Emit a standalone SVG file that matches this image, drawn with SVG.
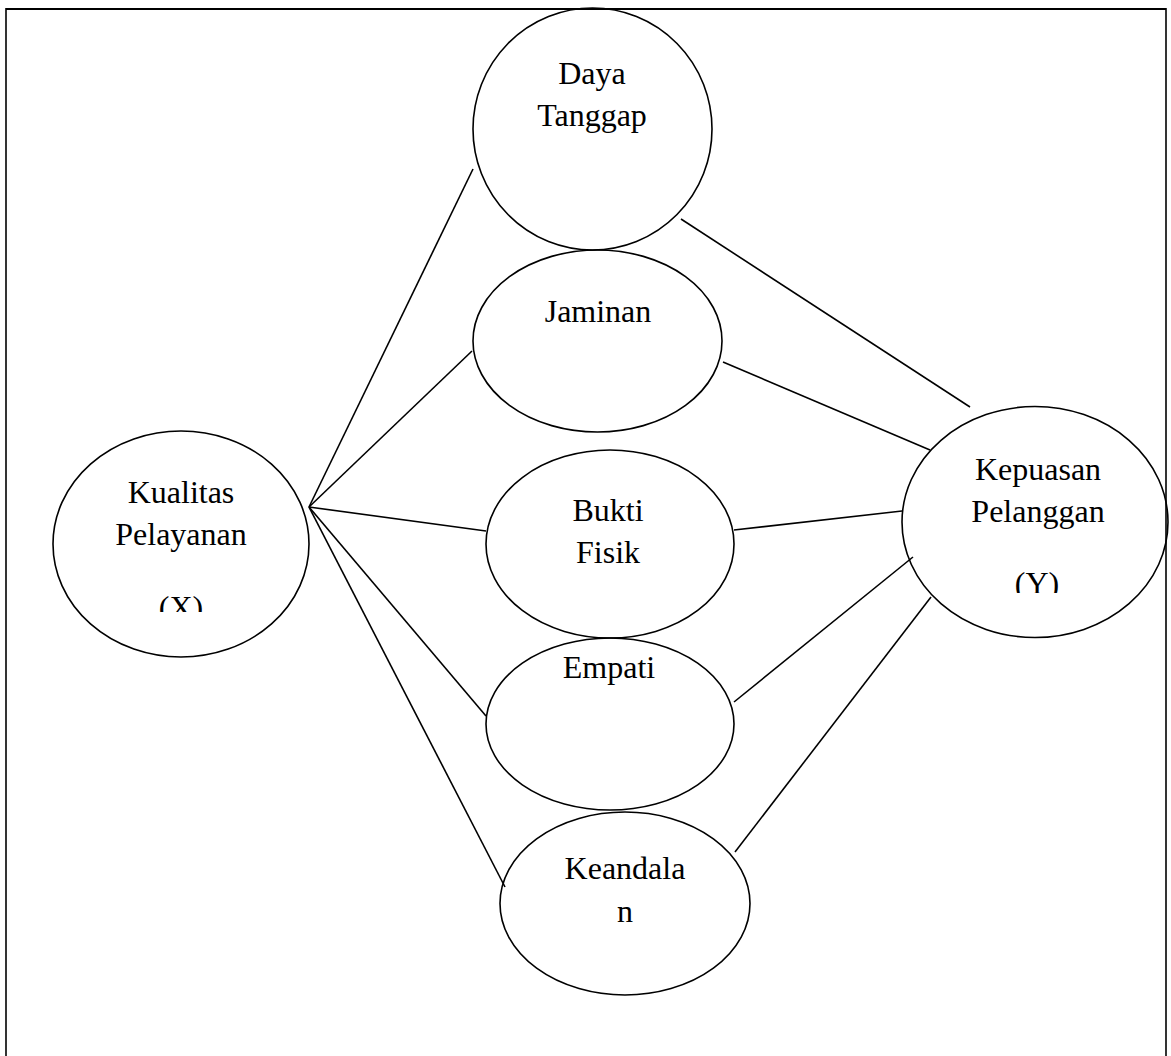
<svg xmlns="http://www.w3.org/2000/svg" width="1171" height="1056" viewBox="0 0 1171 1056">
<style>
.node{fill:none;stroke:#000;stroke-width:1.6}
.lbl{font-family:"Liberation Serif","Times New Roman",serif;font-size:32px;fill:#000;text-anchor:middle}
.conn line{stroke:#000;stroke-width:1.6}
.frame{stroke:#000;fill:none}
</style>
<defs>
<clipPath id="clipX"><rect x="0" y="0" width="1171" height="612"/></clipPath>
<clipPath id="clipY"><rect x="0" y="0" width="1171" height="593"/></clipPath>
</defs>
<rect width="1171" height="1056" fill="#fff"/>
<g id="frame">
<line class="frame" x1="6" y1="9" x2="1166" y2="9" stroke-width="2.2"/>
<line class="frame" x1="6" y1="8" x2="6" y2="1056" stroke-width="1.6"/>
<line class="frame" x1="1166" y1="8" x2="1166" y2="1056" stroke-width="1.6"/>
</g>
<g id="connectors" class="conn">
<line x1="309" y1="507" x2="473" y2="169"/>
<line x1="309" y1="507" x2="472" y2="351"/>
<line x1="309" y1="507" x2="486" y2="531"/>
<line x1="309" y1="507" x2="486" y2="716"/>
<line x1="309" y1="507" x2="505" y2="887"/>
<line x1="681" y1="219" x2="970" y2="407"/>
<line x1="723" y1="362" x2="930" y2="450"/>
<line x1="734" y1="530" x2="902" y2="511"/>
<line x1="734" y1="702" x2="913" y2="557"/>
<line x1="735" y1="852" x2="931" y2="597"/>
</g>
<g id="kualitas">
<ellipse class="node" cx="181" cy="544" rx="128" ry="113"/>
<text class="lbl" x="181" y="503">Kualitas</text>
<text class="lbl" x="181" y="545">Pelayanan</text>
<text class="lbl" x="181" y="618" clip-path="url(#clipX)">(X)</text>
</g>
<g id="daya">
<ellipse class="node" cx="592.5" cy="129" rx="119.5" ry="121"/>
<text class="lbl" x="592" y="84">Daya</text>
<text class="lbl" x="592" y="126">Tanggap</text>
</g>
<g id="jaminan">
<ellipse class="node" cx="597.5" cy="341" rx="124.5" ry="91"/>
<text class="lbl" x="598" y="322">Jaminan</text>
</g>
<g id="bukti">
<ellipse class="node" cx="610" cy="544" rx="124" ry="94"/>
<text class="lbl" x="608" y="521">Bukti</text>
<text class="lbl" x="608" y="563">Fisik</text>
</g>
<g id="empati">
<ellipse class="node" cx="610" cy="724" rx="124" ry="86"/>
<text class="lbl" x="609" y="678">Empati</text>
</g>
<g id="keandalan">
<ellipse class="node" cx="625" cy="903.5" rx="125" ry="91.5"/>
<text class="lbl" x="625" y="879">Keandala</text>
<text class="lbl" x="625" y="922">n</text>
</g>
<g id="kepuasan">
<ellipse class="node" cx="1035" cy="522" rx="133" ry="115.5"/>
<text class="lbl" x="1038" y="480">Kepuasan</text>
<text class="lbl" x="1038" y="522">Pelanggan</text>
<text class="lbl" x="1037" y="594" clip-path="url(#clipY)">(Y)</text>
</g>
</svg>
